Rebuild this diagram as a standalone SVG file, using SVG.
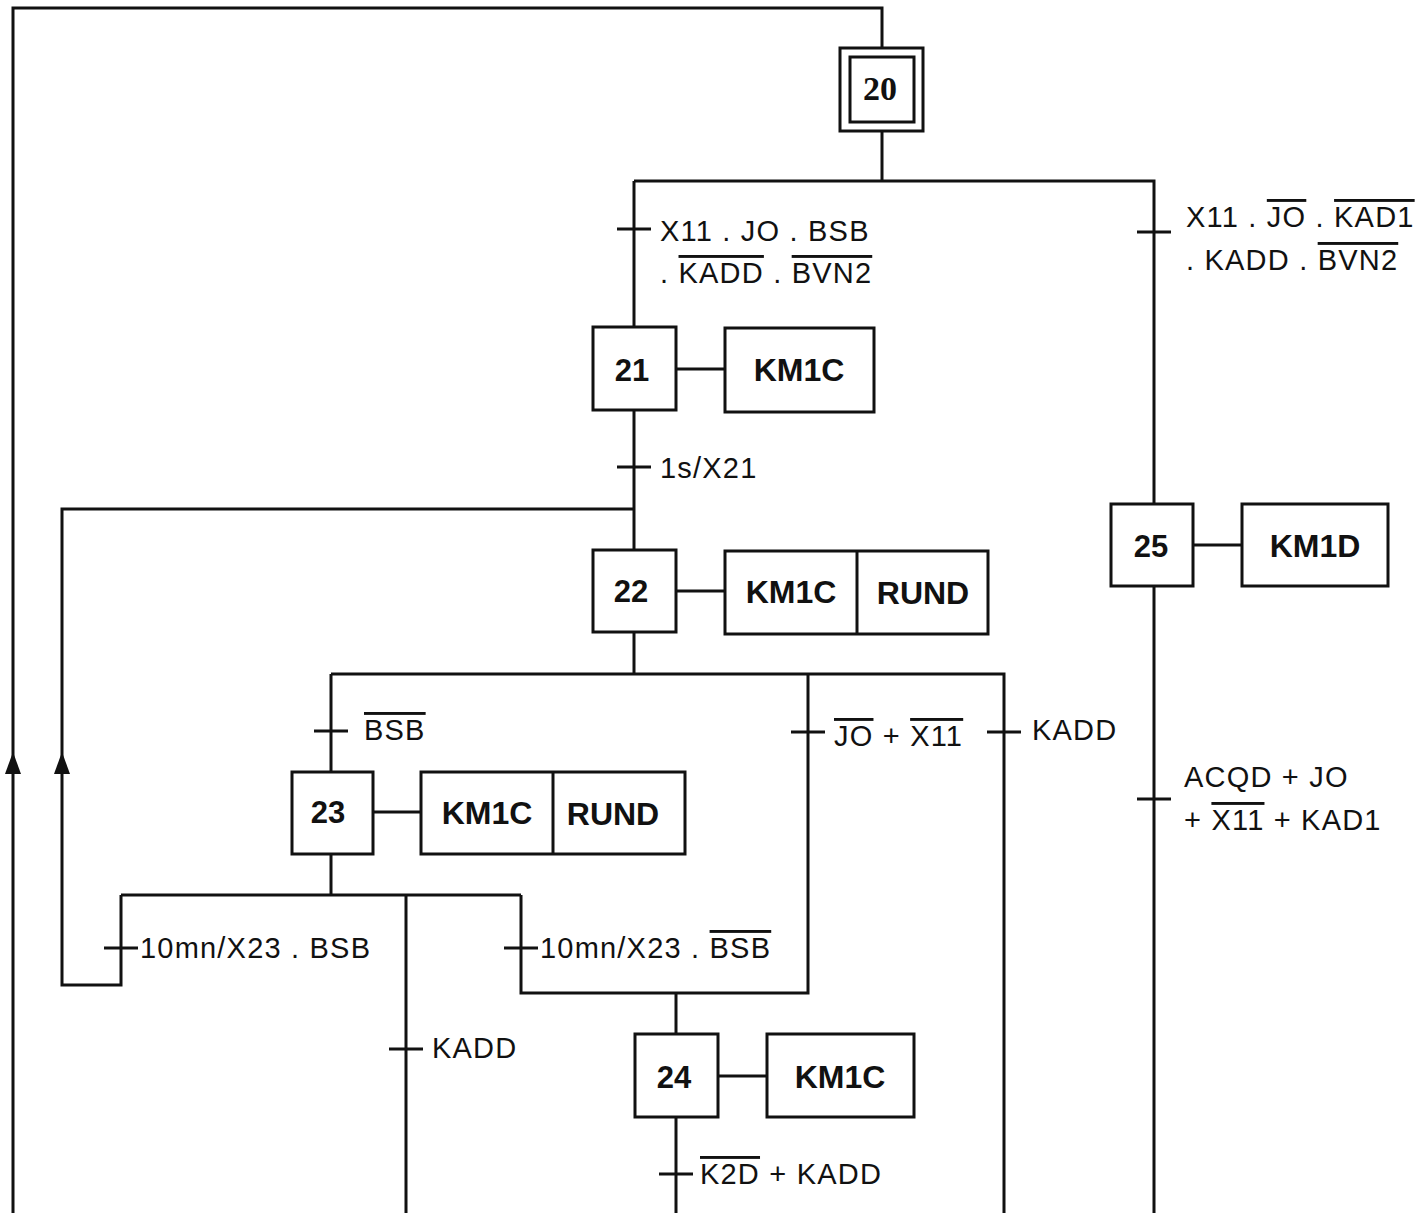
<svg xmlns="http://www.w3.org/2000/svg" width="1426" height="1213" viewBox="0 0 1426 1213">
<style>
.ln{fill:none;stroke:#111;stroke-width:3}
.bx{fill:#fff;stroke:#111;stroke-width:3}
.tk{stroke:#111;stroke-width:3}
.tr{font-family:"Liberation Sans",Arial,sans-serif;font-size:29px;fill:#111;letter-spacing:1.2px}
.st{font-family:"Liberation Sans",Arial,sans-serif;font-size:31px;font-weight:bold;fill:#111;text-anchor:middle}
.ac{font-family:"Liberation Sans",Arial,sans-serif;font-size:32px;font-weight:bold;fill:#111;text-anchor:middle}
.ov{text-decoration:overline}
.ar{fill:#111}
</style>
<rect width="1426" height="1213" fill="#fff"/>
<g id="connectors">
<path class="ln" d="M13 1213 V8 H882 V47"/>
<path class="ln" d="M882 131 V181"/>
<path class="ln" d="M634 181 H1154 V504"/>
<path class="ln" d="M1154 586 V1213"/>
<path class="ln" d="M634 181 V327"/>
<path class="ln" d="M634 410 V550"/>
<path class="ln" d="M634 632 V674"/>
<path class="ln" d="M331 674 H1004 V1213"/>
<path class="ln" d="M331 674 V772"/>
<path class="ln" d="M808 674 V993 H521 V895"/>
<path class="ln" d="M331 854 V895"/>
<path class="ln" d="M121 895 H521"/>
<path class="ln" d="M121 895 V985 H62 V509 H634"/>
<path class="ln" d="M406 895 V1213"/>
<path class="ln" d="M676 993 V1034"/>
<path class="ln" d="M676 1117 V1213"/>
<path class="ln" d="M676 369 H725"/>
<path class="ln" d="M676 591 H725"/>
<path class="ln" d="M373 812 H421"/>
<path class="ln" d="M718 1076 H767"/>
<path class="ln" d="M1193 545 H1242"/>
<polygon class="ar" points="13,752 5,774 21,774"/>
<polygon class="ar" points="62,752 54,774 70,774"/>
</g>
<g id="transitions">
<line class="tk" x1="617" y1="229" x2="651" y2="229"/>
<text class="tr" x="660" y="241">X11 . JO . BSB</text>
<text class="tr" x="660" y="283">. <tspan class="ov">KADD</tspan> . <tspan class="ov">BVN2</tspan></text>
<line class="tk" x1="1137" y1="232" x2="1171" y2="232"/>
<text class="tr" x="1186" y="227">X11 . <tspan class="ov">JO</tspan> . <tspan class="ov">KAD1</tspan></text>
<text class="tr" x="1186" y="270">. KADD . <tspan class="ov">BVN2</tspan></text>
<line class="tk" x1="617" y1="467" x2="651" y2="467"/>
<text class="tr" x="660" y="478">1s/X21</text>
<line class="tk" x1="314" y1="731" x2="348" y2="731"/>
<text class="tr" x="364" y="740"><tspan class="ov">BSB</tspan></text>
<line class="tk" x1="791" y1="732" x2="825" y2="732"/>
<text class="tr" x="834" y="746"><tspan class="ov">JO</tspan> + <tspan class="ov">X11</tspan></text>
<line class="tk" x1="987" y1="732" x2="1021" y2="732"/>
<text class="tr" x="1032" y="740">KADD</text>
<line class="tk" x1="1137" y1="799" x2="1171" y2="799"/>
<text class="tr" x="1184" y="787">ACQD + JO</text>
<text class="tr" x="1184" y="830">+ <tspan class="ov">X11</tspan> + KAD1</text>
<line class="tk" x1="104" y1="948" x2="138" y2="948"/>
<text class="tr" x="140" y="958">10mn/X23 . BSB</text>
<line class="tk" x1="504" y1="948" x2="538" y2="948"/>
<text class="tr" x="540" y="958">10mn/X23 . <tspan class="ov">BSB</tspan></text>
<line class="tk" x1="389" y1="1049" x2="423" y2="1049"/>
<text class="tr" x="432" y="1058">KADD</text>
<line class="tk" x1="659" y1="1174" x2="693" y2="1174"/>
<text class="tr" x="700" y="1184"><tspan class="ov">K2D</tspan> + KADD</text>
</g>
<g id="step20">
<rect class="bx" x="840" y="48" width="83" height="83"/>
<rect class="bx" x="850" y="57" width="64" height="65"/>
<text x="880" y="100" text-anchor="middle" font-family="Liberation Serif,serif" font-size="34" font-weight="bold" fill="#111">20</text>
</g>
<g id="step21">
<rect class="bx" x="593" y="327" width="83" height="83"/>
<text class="st" x="632" y="381">21</text>
</g>
<g id="action21">
<rect class="bx" x="725" y="328" width="149" height="84"/>
<text class="ac" x="799" y="381">KM1C</text>
</g>
<g id="step22">
<rect class="bx" x="593" y="550" width="83" height="82"/>
<text class="st" x="631" y="602">22</text>
</g>
<g id="action22">
<rect class="bx" x="725" y="551" width="263" height="83"/>
<line class="tk" x1="857" y1="551" x2="857" y2="634"/>
<text class="ac" x="791" y="603">KM1C</text>
<text class="ac" x="923" y="604">RUND</text>
</g>
<g id="step23">
<rect class="bx" x="292" y="772" width="81" height="82"/>
<text class="st" x="328" y="823">23</text>
</g>
<g id="action23">
<rect class="bx" x="421" y="772" width="264" height="82"/>
<line class="tk" x1="553" y1="772" x2="553" y2="854"/>
<text class="ac" x="487" y="824">KM1C</text>
<text class="ac" x="613" y="825">RUND</text>
</g>
<g id="step24">
<rect class="bx" x="635" y="1034" width="83" height="83"/>
<text class="st" x="674" y="1088">24</text>
</g>
<g id="action24">
<rect class="bx" x="767" y="1034" width="147" height="83"/>
<text class="ac" x="840" y="1088">KM1C</text>
</g>
<g id="step25">
<rect class="bx" x="1111" y="504" width="82" height="82"/>
<text class="st" x="1151" y="557">25</text>
</g>
<g id="action25">
<rect class="bx" x="1242" y="504" width="146" height="82"/>
<text class="ac" x="1315" y="557">KM1D</text>
</g>
</svg>
